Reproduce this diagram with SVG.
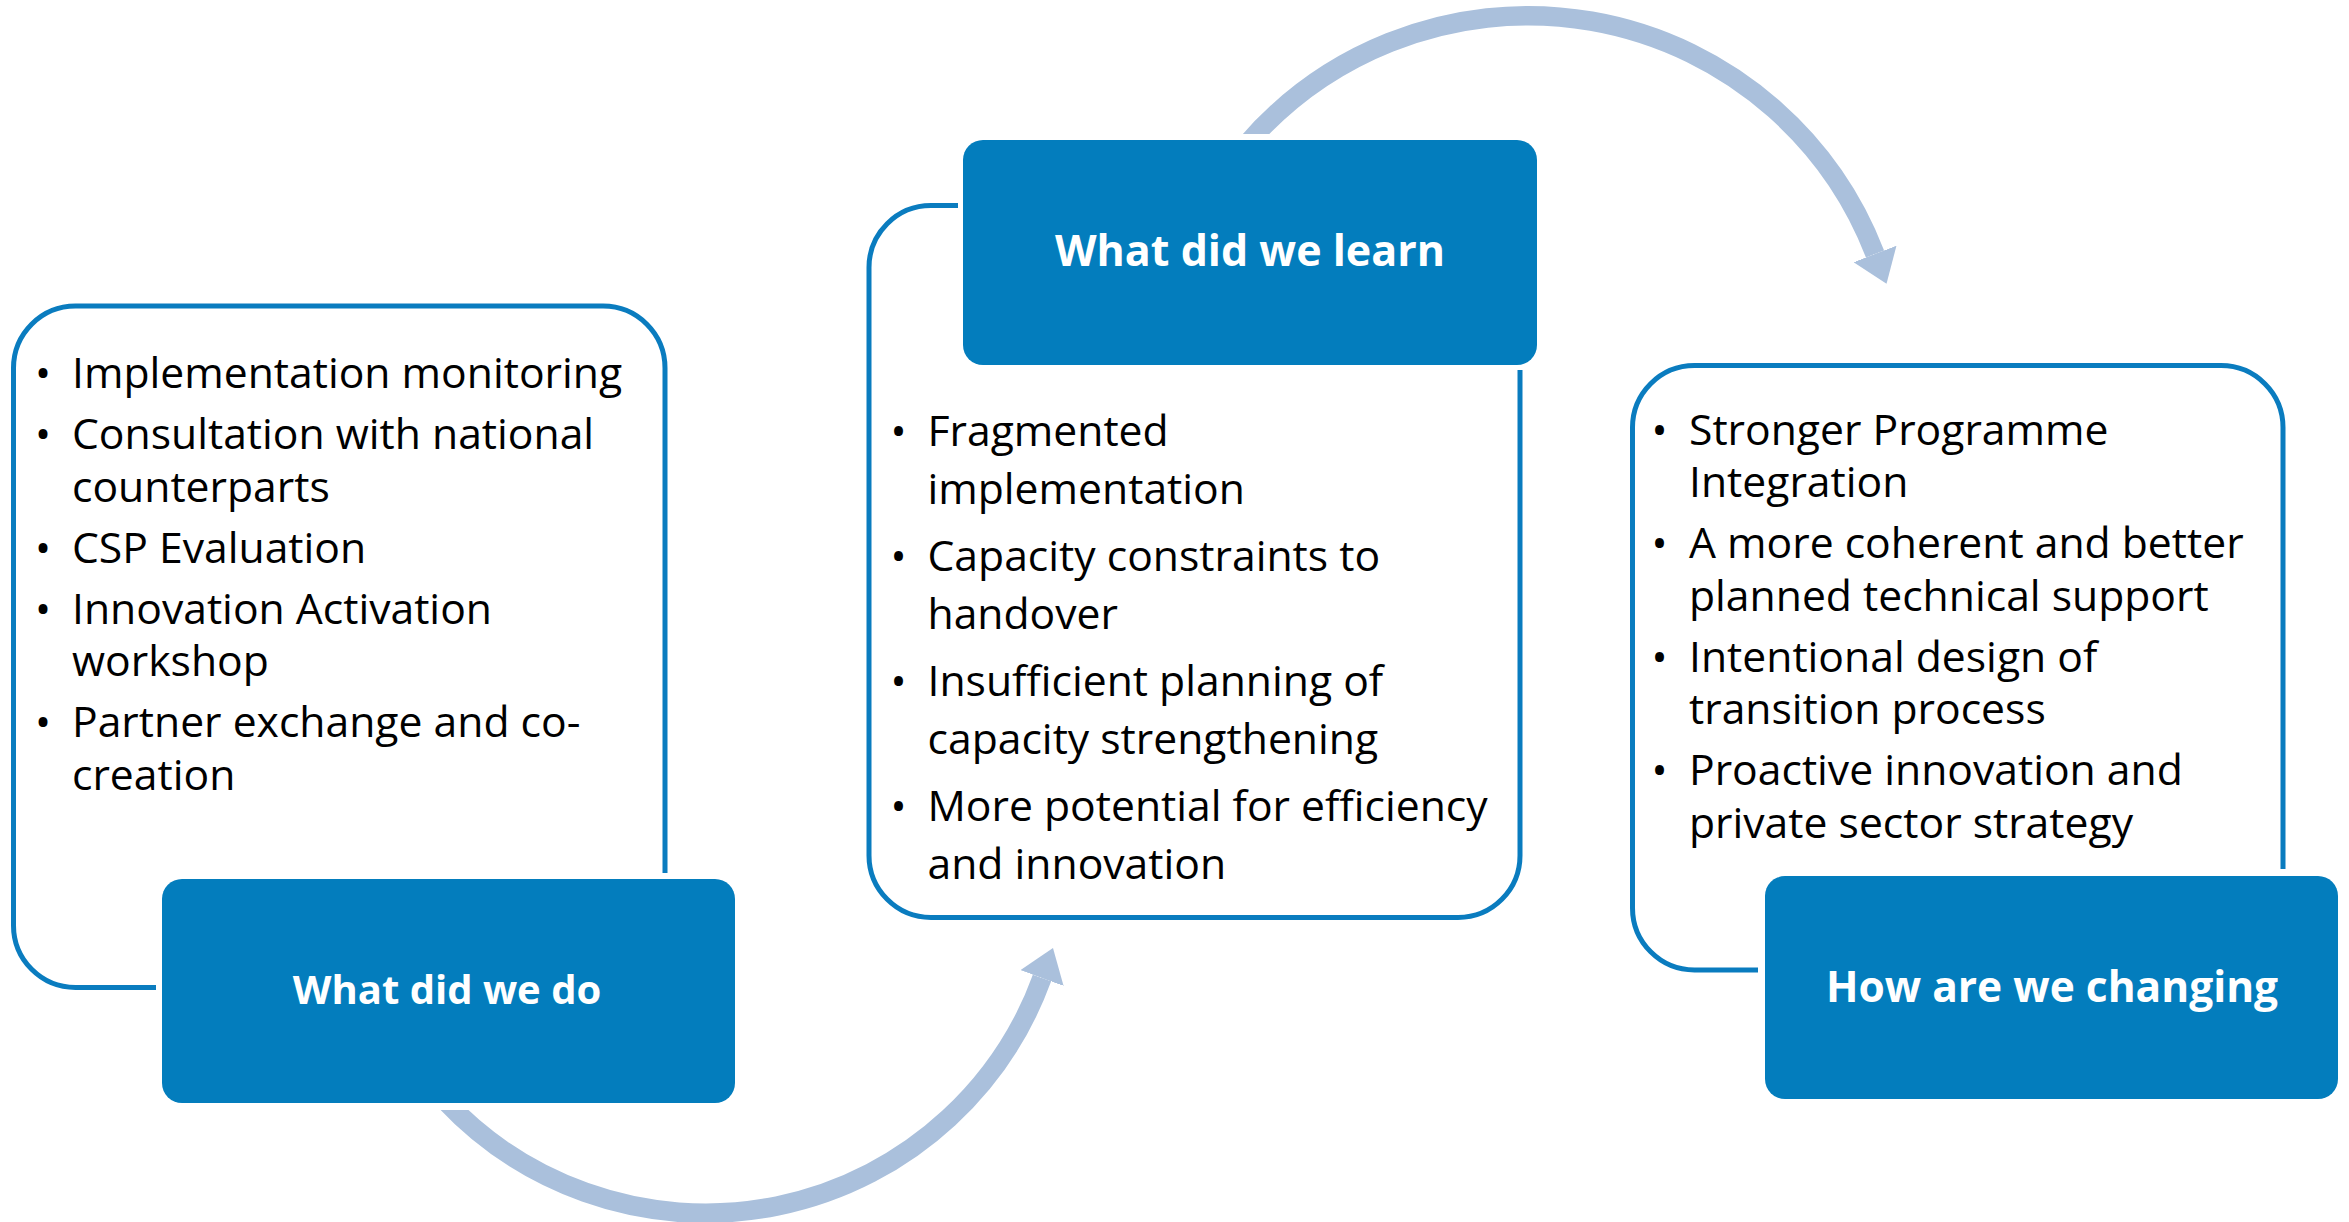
<svg xmlns="http://www.w3.org/2000/svg" width="2349" height="1222" viewBox="0 0 2349 1222">
  <style>
    .outline { fill: none; stroke: #0A7CBF; stroke-width: 5; }
    .head { fill: #037DBD; }
    .title { font-family: "Open Sans", "Noto Sans", "Liberation Sans", sans-serif; font-weight: bold; fill: #FFFFFF; text-anchor: middle; }
    .item { font-family: "Open Sans", "Noto Sans", "Liberation Sans", sans-serif; font-size: 42.67px; fill: #000000; }
    .bullet { text-anchor: middle; }
    .arc { fill: none; stroke: #AAC0DC; stroke-width: 19.5; }
  </style>
  <defs>
    <marker id="arrowhead" markerUnits="userSpaceOnUse" viewBox="0 0 32 46" markerWidth="32" markerHeight="46" refX="0" refY="23" orient="auto">
      <path d="M0,0 L32,23 L0,46 Z" fill="#AAC0DC"/>
    </marker>
    <clipPath id="clipTop">
      <path clip-rule="evenodd" d="M0 0H2349V1222H0Z M1180 134H1330V320H1180Z"/>
    </clipPath>
    <clipPath id="clipBottom">
      <path clip-rule="evenodd" d="M0 0H2349V1222H0Z M380 1000H540V1110H380Z"/>
    </clipPath>
  </defs>

  <g id="connectors">
    <path class="arc" clip-path="url(#clipTop)" d="M 1246 145 A 372 372 0 0 1 1875 254" marker-end="url(#arrowhead)"/>
    <path class="arc" clip-path="url(#clipBottom)" d="M 444.5 1100 A 358 358 0 0 0 1042 978" marker-end="url(#arrowhead)"/>
  </g>

  <g id="node-what-did-we-do">
    <path class="outline" d="M 665 873 V 368 A 62 62 0 0 0 603 306 H 75.5 A 62 62 0 0 0 13.5 368 V 925.5 A 62 62 0 0 0 75.5 987.5 H 156"/>
    <g class="item">
      <text class="bullet" x="43" y="388">•</text>
      <text x="72" y="388">Implementation monitoring</text>
      <text class="bullet" x="43" y="449">•</text>
      <text x="72" y="449">Consultation with national</text>
      <text x="72" y="501.5">counterparts</text>
      <text class="bullet" x="43" y="562.5">•</text>
      <text x="72" y="562.5">CSP Evaluation</text>
      <text class="bullet" x="43" y="623.5">•</text>
      <text x="72" y="623.5">Innovation Activation</text>
      <text x="72" y="676">workshop</text>
      <text class="bullet" x="43" y="737">•</text>
      <text x="72" y="737">Partner exchange and co-</text>
      <text x="72" y="789.5">creation</text>
    </g>
    <rect class="head" x="162" y="879" width="573" height="224" rx="20" ry="20"/>
    <text class="title" x="447" y="1004" font-size="40">What did we do</text>
  </g>

  <g id="node-what-did-we-learn">
    <path class="outline" d="M 958 205.5 H 931 A 62 62 0 0 0 869 267.5 V 855.5 A 62 62 0 0 0 931 917.5 H 1458 A 62 62 0 0 0 1520 855.5 V 370"/>
    <rect class="head" x="963" y="140" width="574" height="225" rx="20" ry="20"/>
    <text class="title" x="1250" y="266" font-size="43">What did we learn</text>
    <g class="item">
      <text class="bullet" x="898.5" y="446">•</text>
      <text x="927.5" y="446">Fragmented</text>
      <text x="927.5" y="504">implementation</text>
      <text class="bullet" x="898.5" y="571">•</text>
      <text x="927.5" y="571">Capacity constraints to</text>
      <text x="927.5" y="629">handover</text>
      <text class="bullet" x="898.5" y="696">•</text>
      <text x="927.5" y="696">Insufficient planning of</text>
      <text x="927.5" y="754">capacity strengthening</text>
      <text class="bullet" x="898.5" y="821">•</text>
      <text x="927.5" y="821">More potential for efficiency</text>
      <text x="927.5" y="879">and innovation</text>
    </g>
  </g>

  <g id="node-how-are-we-changing">
    <path class="outline" d="M 2283 869 V 427.5 A 62 62 0 0 0 2221 365.5 H 1694.5 A 62 62 0 0 0 1632.5 427.5 V 908 A 62 62 0 0 0 1694.5 970 H 1758"/>
    <g class="item">
      <text class="bullet" x="1659.5" y="444.5">•</text>
      <text x="1689" y="444.5">Stronger Programme</text>
      <text x="1689" y="497">Integration</text>
      <text class="bullet" x="1659.5" y="558">•</text>
      <text x="1689" y="558">A more coherent and better</text>
      <text x="1689" y="610.5">planned technical support</text>
      <text class="bullet" x="1659.5" y="671.5">•</text>
      <text x="1689" y="671.5">Intentional design of</text>
      <text x="1689" y="724">transition process</text>
      <text class="bullet" x="1659.5" y="785">•</text>
      <text x="1689" y="785">Proactive innovation and</text>
      <text x="1689" y="837.5">private sector strategy</text>
    </g>
    <rect class="head" x="1765" y="876" width="573" height="223" rx="20" ry="20"/>
    <text class="title" x="2052" y="1002" font-size="42.5">How are we changing</text>
  </g>
</svg>
